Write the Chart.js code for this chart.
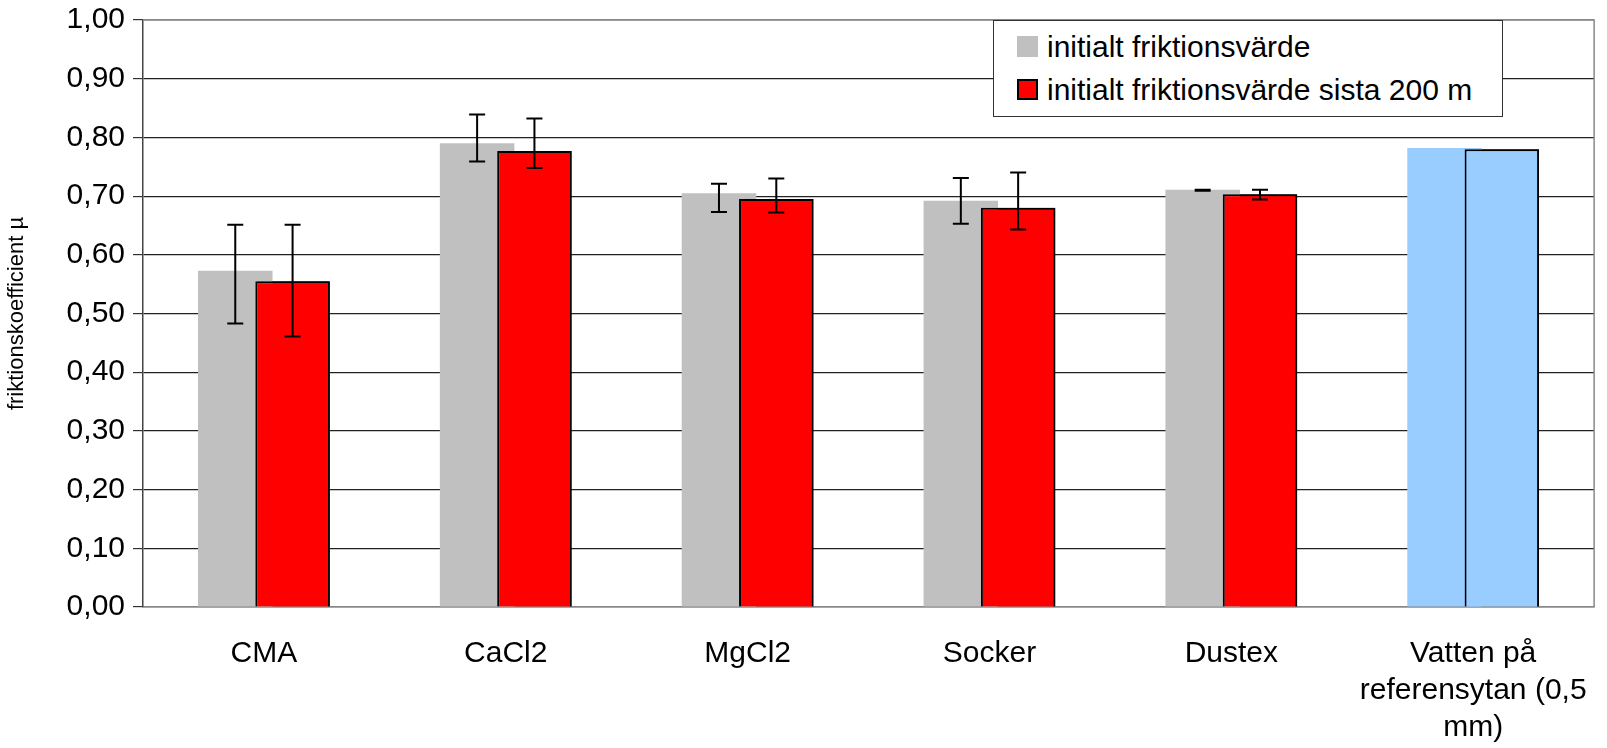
<!DOCTYPE html>
<html>
<head>
<meta charset="utf-8">
<script src="https://cdn.jsdelivr.net/npm/chart.js@4.4.1/dist/chart.umd.min.js"></script>
<style>
  body { margin: 0; background: #fff; }
  #wrap { position: relative; width: 1607px; height: 748px; }
  #legend {
    position: absolute; left: 993px; top: 20px; width: 510px; height: 97px;
    box-sizing: border-box; border: 1.5px solid #333; background: #fff;
    font-family: "Liberation Sans", Arial, sans-serif; font-size: 30px; color: #000;
    padding: 4px 0 0 23px;
  }
  .item { height: 43px; display: flex; align-items: center; }
  .box { width: 21px; height: 21px; margin-right: 9px; box-sizing: border-box; }
</style>
</head>
<body>
<div id="wrap">
  <canvas id="frictionChart" width="1607" height="748"></canvas>
  <div id="legend"></div>
</div>
<script>
// categories and values
var categories = ['CMA', 'CaCl2', 'MgCl2', 'Socker', 'Dustex', ['Vatten på', 'referensytan (0,5', 'mm)']];
var initialValues = [0.573, 0.790, 0.705, 0.692, 0.711, 0.782];
var initialErrPlus = [0.078, 0.049, 0.016, 0.039, 0, 0];
var initialErrMinus = [0.090, 0.031, 0.032, 0.039, 0.002, 0];
var last200Values = [0.555, 0.777, 0.695, 0.680, 0.703, 0.780];
var last200ErrPlus = [0.096, 0.055, 0.035, 0.060, 0.008, 0];
var last200ErrMinus = [0.094, 0.029, 0.023, 0.037, 0.009, 0];

var grey = '#c0c0c0';
var red = '#ff0000';
var lightBlue = '#99ccff';

// last category (reference surface) is drawn in light blue
var greyColors = initialValues.map(function (v, i) { return i === 5 ? lightBlue : grey; });
var redColors = last200Values.map(function (v, i) { return i === 5 ? lightBlue : red; });

// red bars overlap the grey ones, so draw them again on top, then the error bars
var errorBars = {
  id: 'errorBars',
  afterDatasetsDraw: function (chart) {
    var ctx = chart.ctx;
    var area = chart.chartArea;
    var yScale = chart.scales.y;

    ctx.save();
    ctx.beginPath();
    ctx.rect(area.left, area.top, area.right - area.left, area.bottom - area.top);
    ctx.clip();
    chart.getDatasetMeta(1).data.forEach(function (el) { el.draw(ctx); });
    ctx.restore();

    chart.data.datasets.forEach(function (ds, di) {
      var meta = chart.getDatasetMeta(di);
      ds.data.forEach(function (v, i) {
        var plus = ds.errPlus[i], minus = ds.errMinus[i];
        if (!plus && !minus) return;
        var bar = meta.data[i];
        var yTop = yScale.getPixelForValue(v + plus);
        var yBot = yScale.getPixelForValue(v - minus);
        ctx.save();
        ctx.strokeStyle = '#000';
        ctx.lineWidth = 2;
        ctx.beginPath();
        ctx.moveTo(bar.x, yTop); ctx.lineTo(bar.x, yBot);
        ctx.moveTo(bar.x - 8, yTop); ctx.lineTo(bar.x + 8, yTop);
        ctx.moveTo(bar.x - 8, yBot); ctx.lineTo(bar.x + 8, yBot);
        ctx.stroke();
        ctx.restore();
      });
    });

    // grey frame on top and right of the plot
    ctx.save();
    ctx.strokeStyle = '#888';
    ctx.lineWidth = 1.5;
    ctx.beginPath();
    ctx.moveTo(area.left, area.top);
    ctx.lineTo(area.right, area.top);
    ctx.lineTo(area.right, area.bottom);
    ctx.stroke();
    ctx.restore();
  }
};

var ctx = document.getElementById('frictionChart').getContext('2d');
var frictionChart = new Chart(ctx, {
  type: 'bar',
  data: {
    labels: categories,
    datasets: [{
      label: 'initialt friktionsvärde',
      data: initialValues,
      errPlus: initialErrPlus,
      errMinus: initialErrMinus,
      backgroundColor: greyColors,
      borderWidth: 0,
      categoryPercentage: 0.474,
      barPercentage: 1.3
    }, {
      label: 'initialt friktionsvärde sista 200 m',
      data: last200Values,
      errPlus: last200ErrPlus,
      errMinus: last200ErrMinus,
      backgroundColor: redColors,
      borderColor: '#000',
      borderWidth: 2,
      categoryPercentage: 0.474,
      barPercentage: 1.3
    }]
  },
  options: {
    responsive: false,
    animation: false,
    layout: { padding: { left: 0, right: 5, top: 20, bottom: 0 } },
    plugins: {
      legend: { display: false },
      tooltip: { enabled: false }
    },
    scales: {
      x: {
        grid: { display: false },
        border: { display: true, color: '#888', width: 1.5 },
        ticks: {
          color: '#000',
          padding: 20,
          maxRotation: 0,
          font: { family: '"Liberation Sans", Arial, sans-serif', size: 30, lineHeight: 1.23 }
        },
        afterFit: function (scale) { scale.height = 141; }
      },
      y: {
        min: 0,
        max: 1,
        ticks: {
          stepSize: 0.1,
          color: '#000',
          padding: 8,
          font: { family: '"Liberation Sans", Arial, sans-serif', size: 30 },
          callback: function (value) { return value.toFixed(2).replace('.', ','); }
        },
        grid: {
          color: function (c) { return c.tick && c.tick.value === 1 ? '#888' : '#222'; },
          lineWidth: 1.2,
          tickLength: 10,
          tickColor: '#333'
        },
        border: { color: '#444', width: 1.5 },
        title: {
          display: true,
          text: 'friktionskoefficient µ',
          color: '#000',
          padding: { top: 4, bottom: 0 },
          font: { family: '"Liberation Sans", Arial, sans-serif', size: 22 }
        },
        afterFit: function (scale) {
          scale.width = 143;
          scale.paddingTop = 0;
          scale.paddingBottom = 0;
        }
      }
    }
  },
  plugins: [errorBars]
});

// legend box inside the plot, built from the datasets
var legendEl = document.getElementById('legend');
frictionChart.data.datasets.forEach(function (ds) {
  var item = document.createElement('div');
  item.className = 'item';
  var box = document.createElement('span');
  box.className = 'box';
  box.style.background = ds.backgroundColor[0];
  if (ds.borderWidth) box.style.border = '2px solid #000';
  item.appendChild(box);
  item.appendChild(document.createTextNode(ds.label));
  legendEl.appendChild(item);
});
</script>
</body>
</html>
